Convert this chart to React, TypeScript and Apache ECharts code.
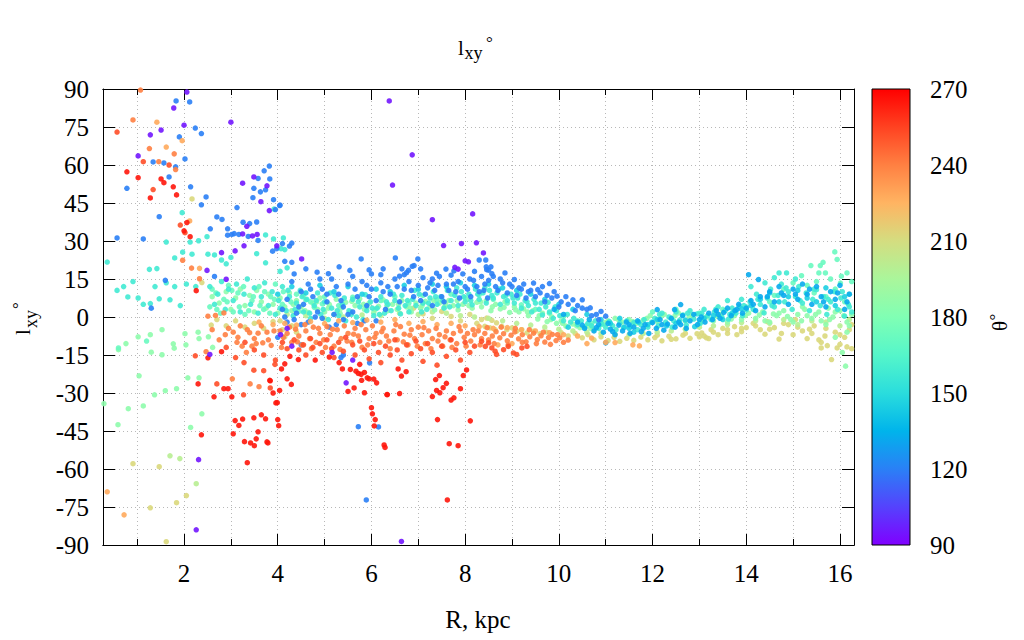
import { useEffect, useRef } from "react";
import * as echarts from "echarts";

// ---- axis ticks ----
const xMajorTicks = [2, 4, 6, 8, 10, 12, 14, 16];
const xMinorTicks = [1, 3, 5, 7, 9, 11, 13, 15];
const X_MIN = 0.27;
const X_MAX = 16.3;
const Y_MIN = -90;
const Y_MAX = 90;
const Y_STEP = 15;
const CB_MIN = 90;
const CB_MAX = 270;
const CB_STEP = 30;

// ---- points [R kpc, l_xy deg], grouped by theta (deg) ----
const theta212 = [
  [2.17, 46.6], [2.38, 13.6], [0.91, -57.9], [1.47, -59.1], [2.05, -70.5], [1.84, -73.3], [1.28, -75.3], [1.62, -88.7],
  [2.7, -1], [2.9, -3.5], [3.1, -1.5], [3.3, -4], [3.5, -2.5], [3.7, -4.5], [3.9, -1.8], [2.58, -3.2],
  [4.05, -1.5], [4.1, -5], [4.15, -7.8], [4.3, -3.5], [4.4, -6],
  [6.9, 3.5], [7.1, 1.2], [7.3, -0.5], [7.5, 2.2], [7.7, 0.2], [7.9, -1.5], [8.1, 1], [8.25, -2.5],
  [8.35, -1.0], [8.46, -0.4], [8.57, -1.3], [8.67, -2.3], [8.42, -3.7], [8.53, -4.3], [8.64, -5], [8.78, -3.7],
  [8.89, -5], [9.0, -4.3], [9.1, -5.6], [9.21, -5], [9.32, -6.3], [9.46, -5.6], [9.6, -6.6], [9.74, -6],
  [10.05, -6.2], [10.2, -7.5], [10.35, -6.5], [10.5, -8.2], [10.62, -7], [10.75, -9], [10.9, -7.8], [11.05, -9.3],
  [11.18, -8], [11.3, -9.6], [11.45, -8.4], [11.6, -9.2], [11.75, -7.9], [11.9, -9], [12.05, -8.1], [12.2, -9.4],
  [12.35, -7.6], [12.5, -8.6], [12.65, -7.2], [12.8, -8.4], [12.95, -6.6], [13.1, -7.5],
  [13.05, -6.3], [13.15, -8.2], [13.25, -5], [13.4, -7], [13.5, -4.5], [13.6, -6.5], [13.75, -3.8], [13.9, -5.8], [14.0, -4.2],
  [14.15, -2.5], [14.3, -5], [14.45, -1.8], [14.6, -4.2], [14.75, -6.5], [14.9, -3], [15.05, -1], [15.2, -5.5],
  [15.3, -8.5], [15.45, -3.5], [15.55, -9], [15.68, -7.5], [15.6, -12.2], [15.73, -11.3], [15.82, -16.8], [15.9, -6],
  [15.94, -12.2], [16.0, -10.8], [16.1, -8], [16.15, -11.8], [16.2, -5], [16.25, -12.5], [15.35, -4.8], [14.7, -8.7],
  [12.1, -7.2], [12.4, -8.8], [12.7, -6.5], [13.0, -7.8], [13.3, -6], [13.6, -5], [13.9, -4.5], [14.2, -3.5],
  [14.5, -4.8], [14.8, -2.5], [15.1, -4], [15.4, -6.5], [15.7, -4.5], [16.0, -7], [16.25, -3], [13.2, -8.5],
  [13.8, -7], [14.4, -6.8], [15.0, -7], [15.6, -10],
];

const theta200 = [
  [1.7, -54.8], [1.91, -55.9], [2.26, -65.8],
  [4.2, 1], [4.6, 0.5], [5.0, -0.5], [5.4, 0], [5.8, 0.8], [6.2, 0.5], [6.6, 1.5], [7.0, 1], [7.3, 2], [7.6, 1.5],
  [7.9, 0.5], [8.2, 0], [8.5, -0.5], [8.8, -1.5], [9.1, -2.5], [9.4, -3.2], [9.7, -4], [10.0, -4.8], [10.3, -5.5],
  [10.6, -6], [10.9, -6.5], [11.2, -6.8], [11.5, -7], [11.8, -6.5], [12.1, -6], [12.4, -5.5], [12.7, -4.8], [13.0, -4],
  [13.3, -3.5], [13.6, -3], [13.9, -2.2], [14.2, -1.5], [14.5, -2.5], [14.8, -1], [15.1, -3], [15.4, -1.5], [15.7, -2],
  [16.0, -3.5], [16.2, -1],
];

const theta185 = [
  [0.6, -12.9], [0.76, -10.5], [1.02, -7.8], [1.28, -7], [1.3, -13.9], [1.53, -5], [1.53, -14.9], [1.77, -10.6],
  [1.79, -12.3], [2.02, -6.6], [2.04, -11], [2.3, -6], [2.32, -8.5], [2.52, -7.8], [2.61, -12], [1.04, -23.2],
  [2.08, -24], [2.32, -24], [1.84, -28.3], [1.6, -29.1], [1.37, -30.7], [1.13, -35.1], [0.81, -36.2], [0.29, -34.2],
  [0.59, -42.5], [2.38, -38.2], [2.14, -43.6],
  [2.6, 8], [2.75, 5.5], [2.9, 10], [3.0, 3], [3.1, 7.5], [3.2, 11], [3.3, 4.5], [3.4, 8.5], [3.5, 2], [3.55, 10.5],
  [3.65, 6], [3.75, 3.5], [3.8, 9], [3.9, 5], [4.0, 1.5], [4.05, 7.5], [4.15, 4], [4.25, 9.5], [4.3, 2.5], [4.4, 6.5],
  [4.5, 4], [4.55, 8.5], [4.65, 1.8], [4.75, 5.5], [4.85, 3], [4.9, 7.5], [5.0, 2], [5.1, 5], [5.2, 1], [5.25, 7],
  [5.35, 3.5], [5.45, 5.8], [5.55, 2.2], [5.65, 4.5], [5.75, 7.2], [5.85, 3], [5.95, 5.5], [6.05, 1.8], [6.15, 4.2],
  [6.25, 6.8], [6.35, 2.5], [6.45, 5], [6.55, 3], [6.65, 6.5], [6.75, 4], [6.85, 2], [6.95, 5.5], [7.05, 3.5],
  [7.15, 6.2], [7.25, 4], [7.35, 2.8], [7.45, 5.5], [7.55, 3.8], [7.65, 6.5], [7.75, 4.5], [7.85, 2.8], [7.95, 5],
  [8.05, 7], [8.15, 3.5], [8.25, 5.8], [8.35, 4], [8.45, 6.5], [8.55, 2.5], [8.65, 5], [8.75, 3.2], [8.85, 6],
  [8.95, 1.8], [9.05, 4], [9.15, 2], [9.25, 3.2], [9.35, 0.5], [9.45, 2.5], [9.55, -0.8], [9.65, 1.5], [9.75, -1.8],
  [9.85, 0], [9.95, -2.5], [10.05, -1.5], [10.15, -3.6], [10.3, -2.8], [10.45, -4.2], [10.6, -3.5], [10.75, -5],
  [10.9, -3], [11.05, -1.5], [11.2, -0.5], [11.35, -2], [11.5, -1], [11.65, -2.5], [11.8, -1.2], [11.95, 0.5],
  [12.1, -1.8], [12.25, 1], [12.4, -0.5], [12.55, 1.6], [12.7, -1.5], [12.85, 0.8], [13.0, -2.3], [13.15, 0],
  [13.3, -1.5], [13.45, 1], [13.6, -2], [13.75, 0.5], [13.9, -1], [14.05, 1.5], [14.2, -0.5], [14.35, 2], [14.5, -2],
  [14.65, 0.5], [14.8, 2.5], [14.95, -1], [15.1, 1], [15.25, 3], [15.4, -0.5], [15.55, 2], [15.7, -3], [15.85, 0],
  [16.0, 2.5], [16.15, -2], [16.25, 1], [16.12, -19.4], [15.9, -8], [16.05, -14],
  [4.08, 3], [4.33, 5], [4.58, 2.5], [4.83, 6], [5.08, 3.5], [5.33, 1.5], [5.58, 6.2], [5.83, 5], [6.08, 3],
  [6.33, 4.5], [6.58, 5], [6.83, 3.5], [7.08, 4.5], [7.33, 6.5], [7.58, 5], [7.83, 6.5], [8.08, 4.5], [8.33, 6],
  [8.58, 4], [8.83, 3.8], [9.08, 2.8], [9.33, 2], [9.58, 0.5], [9.83, -1], [10.08, -2.5], [10.38, -3.5], [10.68, -4.5],
  [10.98, -2.2], [11.28, -1.2], [11.58, -1.8], [11.88, -0.5], [12.18, 0.2], [12.48, 0.5], [12.78, 0], [13.08, -1],
  [13.38, 0.2], [13.68, -0.8], [13.98, 0.5], [14.28, 0.8], [14.58, 1.2], [14.88, 0.2], [15.18, -1.5], [15.48, 1],
  [15.78, -1], [16.08, 0.5],
  [14.4, -1.5], [14.7, 1.5], [15.0, -2], [15.3, 0.5], [15.6, -1.5], [15.9, 2], [16.2, -3.5], [15.2, 4], [15.75, 3.5],
  [16.15, -6],
];

const theta172 = [
  [15.89, 25.7], [15.94, 22.7], [15.64, 21.6], [15.58, 20.3], [15.38, 20.3], [15.18, 16.3], [15.55, 17.4], [15.69, 17.4],
  [16.15, 17.4], [16.03, 16.1], [16.01, 13.4], [15.8, 15], [15.5, 14], [15.3, 12.5], [15.9, 11], [16.2, 9], [15.0, 13.5],
  [14.8, 11], [15.7, 8], [16.1, 6], [15.45, 9.5], [14.6, 8.5], [16.25, 14],
  [4.1, 5], [4.4, 9], [4.7, 6], [5.0, 8], [5.3, 4.5], [5.6, 7.8], [5.9, 3.8], [6.2, 6.5], [6.5, 8], [6.8, 5.5],
  [7.1, 8.5], [7.4, 6.8], [7.7, 9], [8.0, 7.5], [8.3, 8.8], [8.6, 7], [8.9, 5.5], [9.2, 4.8], [9.5, 3], [9.8, 1.5],
  [10.1, 0.2], [10.4, -1.5], [10.7, -2.5], [12.0, 2], [12.5, 3], [13.0, 1.5], [13.5, 3], [14.0, 4], [14.5, 6],
  [2.6, 11], [2.7, 3], [2.85, 7], [2.95, 12.5], [3.05, 2], [3.15, 9.5], [3.3, 1], [3.45, 6.5], [3.6, 12], [3.7, 3],
  [3.85, 8], [3.95, 13], [0.6, -12.2], [1.2, -9.5],
  [2.55, 4], [2.68, 9.5], [2.78, 1.5], [2.92, 6], [3.02, 10.5], [3.18, 4], [3.27, 12], [3.38, 2.5], [3.48, 8],
  [3.62, 4.5], [3.72, 10], [3.83, 1.5], [3.93, 7], [4.12, 10], [4.28, 6], [4.45, 2.2], [4.6, 6.8], [4.78, 3.8],
  [4.95, 5.2],
];

const theta158 = [
  [0.36, 21.7], [1.8, 23.3], [1.97, 25.6], [2.17, 24.8], [2.51, 24.8], [2.65, 24.5], [2.8, 22.5], [2.9, 21], [3.0, 23.5],
  [3.55, 25], [3.74, 21.4], [4.05, 18], [1.26, 18.8], [1.42, 19.1], [0.91, 14], [0.71, 12], [0.57, 10.5], [1.62, 13.5],
  [1.38, 12], [1.8, 12], [2.05, 13], [2.25, 12], [0.8, 7.9], [1.02, 7.5], [1.47, 7.2], [1.7, 6.8], [1.92, 4.5],
  [1.13, 5], [1.28, 5.3], [2.13, 29.6], [2.31, 30.1], [2.49, 31.7], [1.62, 29.6], [3.74, 32.4], [3.91, 30.8],
  [4.12, 31.2], [1.96, 41.2], [3.92, 42.6], [4.07, 27], [4.15, 26.6], [4.2, 19.4],
  [2.55, 12], [2.65, 5], [2.72, 9], [2.8, 14], [2.88, 3], [2.95, 11], [3.05, 6.5], [3.12, 13], [3.2, 2], [3.28, 9],
  [3.35, 15], [3.42, 5], [3.5, 11.5], [3.58, 1.5], [3.65, 8], [3.72, 13.5], [3.8, 4.5], [3.88, 10], [3.95, 1],
  [4.02, 6.5], [4.1, 12], [4.18, 2.5], [4.25, 8], [4.33, 0.5], [4.4, 5.5], [4.48, 10.5], [4.55, 2], [4.62, 7],
  [4.7, -0.5], [4.78, 4.5], [4.85, 9.5], [4.92, 1], [5.0, 6], [5.08, -1], [5.15, 3.5], [5.22, 8.5], [5.3, 0.5],
  [5.38, 5], [5.45, -1.5], [5.52, 2.5], [5.6, 7], [5.68, 0], [5.75, 4], [5.82, -1], [5.9, 2.5], [5.98, 6], [6.05, 0.5],
  [6.12, 3.5], [6.2, 8], [6.28, 1.5], [6.35, 5], [6.42, 2.5], [6.5, 6.5], [6.58, 3.5], [6.65, 8.5], [6.72, 4.5],
  [6.8, 2], [6.88, 7], [6.95, 4.5], [7.02, 9], [7.1, 5.5], [7.18, 3], [7.25, 7.5], [7.32, 10], [7.4, 5], [7.48, 8],
  [7.55, 3.5], [7.62, 10.5], [7.7, 6.5], [7.78, 8.5], [7.85, 4.5], [7.92, 10], [8.0, 6], [8.08, 9], [8.15, 4.8],
  [8.22, 11], [8.3, 7], [8.38, 9.5], [8.45, 5.5], [8.52, 10.5], [8.6, 7.5], [8.68, 9.5], [8.75, 5], [8.82, 8],
  [8.9, 6.5], [8.98, 9], [9.05, 5.5], [9.12, 7.5], [9.2, 3.5], [9.28, 6.5], [9.35, 4.5], [9.42, 2], [9.5, 5.5],
  [9.58, 3], [9.65, 0.8], [9.72, 4], [9.8, 2], [9.88, -0.5], [9.95, 2.5], [10.02, 0.5], [10.1, -1.5], [10.18, 1],
  [10.25, -2], [10.32, -0.5], [10.4, -3], [10.48, -1.5], [10.55, -4], [10.62, -2.5], [10.7, -3.5], [10.78, -1.5],
  [10.85, -4.5], [10.92, -2.8], [11.0, -4], [11.08, -1.8], [11.15, -3.5], [11.22, -5], [11.3, -2.5], [11.38, -4.2],
  [11.45, -1.5], [11.52, -3.8], [11.6, -2.2], [11.68, -5], [11.75, -3], [11.82, -1], [11.9, -4], [11.98, -2],
  [12.05, -0.5], [12.12, -3.5], [12.2, 1.5], [12.28, -2], [12.35, 0], [12.42, -4], [12.5, 2], [12.58, -1.2],
  [12.65, 0.8], [12.72, -3.2], [12.8, 2.5], [12.88, -0.8], [12.95, 1.2], [13.02, -2.5], [13.1, 3], [13.18, 0.5],
  [13.25, -1], [13.32, 2], [13.4, 4], [13.48, 0], [13.55, 2.5], [13.62, -0.8], [13.7, 3.5], [13.78, 1.5], [13.85, 4.2],
  [13.92, 0.5], [14.0, 2.8], [14.08, 6], [14.15, 3], [14.22, 9], [14.3, 5], [14.38, 1.6], [14.45, 7.5], [14.52, 11],
  [14.6, 4], [14.68, 8.5], [14.75, 13], [14.82, 6], [14.9, 10], [14.98, 3], [15.05, 8], [15.12, 12], [15.2, 5.5],
  [15.28, 9.5], [15.35, 2.5], [15.42, 7], [15.5, 10.8], [15.58, 4.5], [15.65, 8], [15.72, 1], [15.8, 6], [15.88, 10],
  [15.95, 3], [16.02, 7.5], [16.1, 0.3], [16.18, 5], [16.25, 2], [14.7, 17.4], [14.86, 17.4], [14.1, 12], [14.4, 13.5],
  [14.6, 15.5], [15.05, 15], [13.9, 7], [13.6, 6.5],
  [4.05, 3.5], [4.22, 10.5], [4.37, 3], [4.52, 8], [4.68, 1.5], [4.82, 6.5], [4.97, 3], [5.12, 9.5], [5.27, 2.5],
  [5.42, 7.5], [5.57, 1], [5.72, 6], [5.87, 8.8], [6.02, 3.5], [6.17, 1], [6.32, 6], [6.47, 9], [6.62, 1.2],
  [6.77, 6.5], [6.92, 10.5], [7.07, 2], [7.22, 5.5], [7.37, 8], [7.52, 6.5], [7.67, 4], [7.82, 11.5], [7.97, 8],
  [8.12, 6.5], [8.27, 9], [8.42, 11.5], [8.57, 8.5], [8.72, 11], [8.87, 8.5], [9.02, 7.5], [9.17, 9], [9.32, 6],
  [9.47, 7], [9.62, 5.5], [9.77, 5.8], [9.92, 4],
  [12.15, 1], [12.45, -1.5], [12.75, 1.5], [13.05, 1.5], [13.35, 3], [13.65, 1], [13.95, 4.5], [14.25, 7],
  [14.55, 4.5], [14.85, 11.5], [15.15, 6.5], [15.45, 11], [15.75, 7], [16.05, 10], [16.2, 4],
];

const theta145 = [
  [4.0, 9], [4.3, 12], [4.6, 9.5], [4.9, 12.5], [5.2, 10], [5.5, 12], [5.8, 9], [6.1, 11], [6.4, 10], [6.7, 12.5],
  [7.0, 11], [7.3, 13], [7.6, 12], [7.9, 13.5], [8.2, 12.5], [8.5, 13], [8.8, 11.5], [9.1, 10.5], [9.4, 9], [9.7, 7],
  [10.0, 5], [10.3, 3], [10.6, 1], [10.9, -1], [11.1, -2.5], [11.3, -0.5], [11.5, -4.5], [11.7, -2], [11.9, -3],
  [12.1, -1], [12.3, -3.5], [12.5, -2.5], [12.7, -1.2], [12.9, -3.8], [13.1, -0.5], [13.3, 0.5], [13.5, -1], [13.7, 1.5],
  [13.9, 3.2], [14.1, 4.5], [14.3, 7], [14.5, 9.5], [14.7, 6], [14.9, 8], [15.1, 10.5], [15.3, 7.5], [15.5, 6],
  [15.7, 11.5], [15.9, 4.5], [16.1, 8], [11.4, -4], [11.6, -6], [10.2, -4],
];

const theta132 = [
  [10.4, -2], [10.55, -4.5], [10.65, -1], [10.75, -5.5], [10.85, -3], [10.95, -6], [11.05, -2.5], [11.1, -4.8],
  [11.2, -7], [11.28, -3.2], [11.36, -5.5], [11.44, -2], [11.52, -6.5], [11.6, -4], [11.68, -1.5], [11.76, -5.8],
  [11.84, -3], [11.92, -6.5], [12.0, -2.2], [12.08, -4.5], [12.16, -1], [12.24, -5.2], [12.32, -2.8], [12.4, -0.5],
  [12.48, -4], [12.56, -2], [12.64, 0.5], [12.72, -4.5], [12.8, -1.5], [12.88, 1], [12.96, -3], [13.04, 0],
  [13.12, -2], [13.2, 1.5], [13.28, -1], [13.36, 2.5], [13.44, -0.5], [13.52, 1.8], [13.6, 3.5], [13.68, 0.5],
  [13.76, 2.5], [13.84, 5], [13.92, 1.5], [14.0, 3.5], [14.1, 6.5], [14.2, 2.5], [14.3, 8], [14.4, 4], [14.5, 10],
  [14.6, 6], [14.7, 12], [14.8, 8.5], [14.9, 5], [15.0, 11], [15.1, 7], [15.2, 13], [15.3, 9], [15.4, 5], [15.5, 12],
  [15.6, 8], [15.7, 4], [15.8, 10], [15.9, 7], [16.0, 12.5], [16.1, 3], [16.2, 9], [11.0, -10.2], [12.1, 2.9],
  [12.47, 2.9], [12.6, 4.9], [14.05, 16.7], [14.26, 14.8], [10.1, 1], [9.9, 3],
  [10.5, -3.2], [10.8, -4.2], [11.15, -5.8], [11.5, -3], [11.8, -4.5], [12.2, -3], [12.6, -3], [13.0, -1],
  [13.4, 1], [13.8, 3], [14.15, 5], [14.45, 8], [14.75, 9.5], [15.05, 9], [15.35, 11], [15.65, 6], [15.95, 9.5],
  [16.15, 6],
];

const theta120 = [
  [1.83, 85.3], [2.12, 84.9], [2.24, 74.6], [2.37, 72.4], [1.9, 71.1], [2.02, 62.4], [1.34, 61.2], [1.57, 60.8],
  [1.82, 59.3], [1.68, 55.3], [0.78, 50.8], [2.14, 51.4], [2.47, 47.4], [2.37, 44.3], [3.58, 54.7], [3.71, 57.7],
  [3.82, 59.6], [3.83, 54.5], [3.49, 50.8], [3.63, 49.4], [3.74, 50.2], [3.47, 47.1], [3.91, 46.3], [4.04, 44],
  [3.95, 42.4], [3.13, 43.2], [1.47, 39.6], [2.7, 39.5], [2.81, 38.5], [2.56, 34.8], [2.93, 34.8], [3.26, 37.4],
  [3.4, 36.9], [3.55, 37.5], [3.07, 32.9], [2.93, 32.3], [3.02, 32.6], [3.17, 32.6], [3.37, 31.8], [3.58, 30.2],
  [0.57, 31.2], [1.13, 30.8], [3.89, 26], [3.98, 27], [1.3, 3.5], [2.65, 16], [1.6, 14.5], [4.1, 29], [4.25, 28],
  [4.3, 29.2], [4.15, 22], [4.3, 21.6], [4.05, 44.2],
  [4.84, 17.7], [5.08, 17.1], [5.31, 19.8], [5.54, 18.4], [5.78, 22.9], [5.95, 18.6], [6.0, 17], [6.2, 16.7],
  [6.25, 19], [6.51, 23.3], [6.6, 16.1], [6.7, 16.7], [6.75, 17.5], [6.79, 18.4], [6.87, 20], [6.91, 20.3],
  [6.99, 22.9], [7.39, 17.3], [7.59, 18.9], [7.76, 18.2], [8.46, 18.7], [8.57, 17.1],
  [4.1, 3], [4.2, 7], [4.3, 14], [4.4, 1.5], [4.5, 10], [4.55, 5], [4.65, 13], [4.75, 8], [4.85, 2], [4.95, 11],
  [5.05, 6], [5.15, 15], [5.2, 1], [5.3, 9], [5.4, 4], [5.5, 13], [5.6, 2], [5.7, 8], [5.8, 14], [5.9, 4.5], [6.0, 11],
  [6.1, 6.5], [6.2, 13.5], [6.3, 3], [6.4, 9], [6.5, 15], [6.6, 6], [6.7, 11], [6.8, 14], [6.9, 8], [7.0, 12.5],
  [7.1, 15.5], [7.15, 9], [7.25, 13.5], [7.35, 10.5], [7.45, 16], [7.5, 8], [7.6, 13], [7.7, 16.5], [7.8, 10],
  [7.85, 14], [7.95, 17], [8.05, 11], [8.1, 15], [8.2, 18], [8.25, 12], [8.35, 16], [8.4, 10.5], [8.5, 14.5],
  [8.55, 19.8], [8.65, 12], [8.75, 15], [8.85, 17.4], [8.95, 13], [9.05, 14.8], [9.15, 11.5], [9.25, 13], [9.35, 10],
  [9.46, 13.4], [9.55, 10.8], [9.65, 12], [9.75, 8.5], [9.8, 13.2], [9.9, 10], [9.96, 8.2], [10.05, 6], [10.15, 8],
  [10.3, 6.8], [10.4, 4.5], [10.5, 6.8], [10.6, 3], [10.67, 3.6], [10.8, 1], [10.9, 2.2], [11.0, 0.3], [8.3, 22.5],
  [8.44, 22.5], [8.45, 19.8], [8.5, 18.5],
  [7.05, 6.5], [7.2, 11.5], [7.3, 4.5], [7.42, 12.5], [7.55, 6], [7.65, 10.5], [7.75, 13], [7.88, 7.5], [8.0, 12],
  [8.12, 8], [8.18, 14.5], [8.3, 10], [8.42, 13], [8.48, 7.5], [8.6, 16], [8.7, 10.5], [8.8, 13.5], [8.9, 9.5],
  [9.0, 12], [9.1, 8.5], [9.2, 11], [9.3, 7.5], [9.4, 10.5], [9.5, 8], [9.6, 9.5], [9.7, 6], [9.85, 7.5], [10.0, 4],
  [10.2, 5], [10.35, 2.5], [10.5, 3.5], [10.7, 0.5], [10.85, -1],
  [4.2, -2], [4.5, -3], [4.8, 0], [5.1, -4], [5.4, -1], [5.7, -2.5], [6.1, -1.5], [5.35, -16], [5.4, -15],
  [5.72, -43.3], [6.15, -43.4], [5.89, -72.2], [5.96, -18.1], [4.0, -8], [4.5, -11],
  [4.35, 17], [4.6, 19], [4.9, 15], [5.25, 12], [5.6, 16], [5.9, 12.5], [6.35, 12], [6.65, 19], [7.05, 19], [7.3, 15],
  [4.15, 0], [4.35, -1], [4.65, -2], [4.95, -0.5], [5.25, -3], [5.5, 1], [5.85, -1.5], [4.45, 4], [4.7, 11],
  [5.05, 9], [5.35, 6.5], [5.65, 11], [5.95, 8], [6.25, 10], [6.55, 12], [6.85, 10.5],
];

const theta95 = [
  [2.06, 88.8], [1.78, 82.5], [3.0, 76.9], [2.0, 75.7], [1.51, 73.8], [1.28, 71.9], [1.02, 63.6], [3.25, 52.8],
  [3.49, 55.3], [3.77, 51.8], [3.64, 45.5], [3.82, 42.0], [3.34, 35.8], [3.25, 32.8], [3.46, 32.0], [3.56, 32.6],
  [3.28, 28.1], [3.09, 26.1], [3.98, 28.1], [2.8, 25.4], [2.9, 14.9], [2.49, 18.4], [2.55, -14.8], [2.31, -56.3],
  [2.26, -84.0], [6.64, -88.6], [4.51, 22.9], [6.38, 85.3], [6.87, 64.0], [6.45, 52.1], [7.3, 38.4], [8.16, 40.7],
  [7.54, 28.2], [7.92, 29.0], [8.24, 29.3], [8.0, 22.2], [8.07, 21.8], [8.39, 25.3], [7.78, 19.6], [7.85, 18.9],
  [5.16, -14.0], [5.6, -17.0], [4.06, -7.0], [4.3, -11.5], [4.2, -4.5], [5.46, -26.0],
];

const theta228 = [
  [1.42, 76.9], [1.62, 67.1], [1.96, 69.6], [2.12, 37.9], [2.33, 19.2], [0.36, -69], [0.72, -78.1],
  [3.6, -2], [3.9, -3], [4.15, -2.5], [4.4, -3.2], [4.7, -1.8], [5.0, -2.6], [5.3, -1.5], [5.6, -2.2], [5.9, -1.2],
  [6.2, -2], [6.5, -1], [6.8, -2.5], [7.1, -1.8], [7.4, -3], [7.7, -2.5], [8.0, -3.5], [8.3, -3.8], [8.6, -4.5],
  [8.9, -4.2], [9.2, -5], [9.5, -5.5], [9.8, -6.2], [10.1, -7], [10.4, -7.5], [10.7, -8.3], [11.0, -10],
  [11.2, -10.1], [11.58, -11], [11.72, -11.4], [10.6, -10.5], [9.0, -10.5], [8.7, -11],
];

const theta240 = [
  [0.91, 77.8], [1.26, 66.5], [1.79, 64.4], [1.46, 61.3], [1.82, 58.2], [1.07, 89.6], [1.97, 22.4], [2.16, 19.3],
  [2.33, 15.1], [2.47, -13.7], [3.03, -24.4], [3.41, -26.4], [3.6, -27.5],
  [2.51, 0.3], [2.67, 0.6], [2.85, 1.6], [3.05, -6], [3.24, -11.5], [3.4, -6.2], [3.58, -6.4], [3.77, -6],
  [3.13, -10], [3.33, -14], [3.54, -10.5], [3.68, -10.2], [3.86, -11.2],
  [4.05, -5.5], [4.12, -8], [4.2, -6.5], [4.3, -10], [4.38, -4.8], [4.45, -7.5], [4.52, -11], [4.6, -5.5],
  [4.68, -8.5], [4.76, -4], [4.82, -10], [4.9, -6.5], [4.98, -9], [5.05, -3.8], [5.12, -7], [5.2, -11.5],
  [5.27, -5], [5.35, -8.5], [5.42, -3.5], [5.5, -6.5], [5.58, -10], [5.65, -4.5], [5.72, -7.5], [5.8, -12],
  [5.88, -5], [5.95, -8.5], [6.02, -3.5], [6.1, -6.5], [6.18, -10], [6.25, -4.5], [6.32, -7.5], [6.4, -12.5],
  [6.48, -5.5], [6.55, -9], [6.62, -3.8], [6.7, -6.8], [6.78, -11], [6.85, -5], [6.92, -8.5], [7.0, -4],
  [7.08, -7], [7.15, -10.5], [7.22, -5.5], [7.3, -8.5], [7.38, -4.5], [7.45, -7], [7.52, -11.5], [7.6, -5.5],
  [7.68, -9], [7.75, -6.5], [7.82, -10.5], [7.9, -5.5], [7.98, -8], [8.05, -6.5], [8.12, -9.5], [8.2, -7],
  [8.28, -5.5], [8.35, -8.5], [8.42, -6.5], [8.5, -9], [8.58, -7.5], [8.66, -5.8], [8.74, -8.2], [8.82, -6.6],
  [8.9, -9.4], [8.98, -7.2], [9.06, -5.9], [9.14, -8.6], [9.22, -7], [9.3, -9.8], [9.38, -7.8], [9.46, -6.4],
  [9.54, -8.9], [9.62, -7.4], [9.7, -9.9], [9.78, -8.1], [9.86, -6.9], [9.94, -9.3], [10.02, -8.2], [10.1, -10],
  [10.2, -9.1],
  [4.08, -12], [4.25, -4], [4.42, -9.8], [4.58, -3], [4.72, -12.5], [4.87, -4.5], [5.02, -12], [5.17, -4.8],
  [5.33, -12.8], [5.48, -9.5], [5.62, -6.8], [5.78, -3], [5.92, -11], [6.07, -8], [6.22, -5.8], [6.37, -9.5],
  [6.52, -3], [6.68, -9.8], [6.82, -7.2], [6.98, -11.5], [7.12, -4.2], [7.27, -12.5], [7.42, -9.5], [7.57, -7.8],
  [7.72, -12], [7.87, -3.8], [8.02, -11.5], [8.17, -5], [8.32, -11], [8.47, -4.2], [8.62, -10.5], [8.77, -4],
  [8.92, -11], [9.07, -4.5], [9.22, -10], [9.37, -5], [9.52, -10.5], [9.67, -6], [9.82, -10.8], [9.97, -7],
  [2.6, -5], [2.75, -9], [2.95, -4.5], [3.15, -8], [3.35, -5], [3.5, -8.5], [3.65, -3.5], [3.8, -9], [3.92, -5.5],
  [2.88, -7], [3.2, -3.5], [3.45, -11.5],
];

const theta252 = [
  [0.57, 73], [1.13, 61.3], [1.68, 60], [1.34, 50.3], [1.92, 36.3], [2.02, 33.3], [2.24, -15.3], [2.7, -26.4],
  [3.27, -30.7], [3.84, -28], [3.28, -18], [3.49, -21], [3.7, -21.2], [3.94, -18.7],
  [4.1, -10], [4.2, -12.5], [4.35, -9], [4.45, -13], [4.55, -11], [4.6, -15], [4.7, -8.5], [4.75, -12],
  [4.9, -10.5], [4.95, -14], [5.05, -9], [5.15, -12.5], [5.2, -16], [5.3, -10], [5.4, -13.5], [5.45, -8],
  [5.6, -11], [5.65, -15], [5.75, -9.5], [5.85, -13], [5.95, -16.5], [6.05, -10.5], [6.15, -14], [6.2, -18],
  [6.3, -11.5], [6.4, -15], [6.5, -9], [6.55, -13], [6.65, -17], [6.75, -11], [6.85, -14.5], [6.95, -9.5],
  [7.05, -12.5], [7.1, -17.5], [7.2, -10.5], [7.3, -14], [7.4, -19], [7.5, -11.5], [7.6, -15.5], [7.7, -9],
  [7.8, -13], [7.9, -17], [8.0, -10], [8.1, -14], [8.2, -11.5], [8.35, -9.6], [8.43, -11.6], [8.5, -10.2],
  [8.57, -12.2], [8.64, -13.5], [8.67, -14.8], [8.82, -12.9], [8.92, -11.6], [9.03, -14.2], [9.1, -14.8],
  [9.21, -12.2], [9.32, -11.6], [3.5, -13], [3.7, -15], [3.3, -10], [2.9, -12], [3.1, -16], [3.95, -17],
];

const theta265 = [
  [0.78, 57.3], [1.02, 55], [1.51, 54.5], [1.57, 53], [1.77, 51.4], [1.84, 48.2], [1.28, 47], [2.0, 34],
  [2.06, 37.3], [2.13, 31.7], [2.26, 10.4], [2.51, -16.1], [2.8, -13.7], [2.3, -26.4], [2.85, -28.3],
  [2.94, -28.3], [3.84, -25.2], [3.9, -30], [3.99, -33.8], [3.02, -31.5], [2.64, -31.5], [2.37, -46.5],
  [3.09, -40.9], [3.17, -42.8], [3.25, -40.3], [3.05, -46.1], [3.49, -39.8], [3.65, -38.6], [3.74, -40.2],
  [3.58, -45.3], [3.54, -48.1], [3.29, -49.2], [3.42, -49.7], [3.5, -50.8], [3.77, -49.3], [3.79, -49.7],
  [4.0, -40.5], [4.02, -42.9], [3.35, -57.5],
  [3.96, -33.9], [4.2, -24.4], [4.29, -26.6], [3.83, -25], [4.04, -29], [4.15, -18.5], [4.08, -20.5],
  [4.26, -15.5], [4.44, -16.8], [5.5, -29.4], [5.85, -29.9], [6.0, -35.8], [6.02, -38.2], [6.08, -40.5],
  [6.06, -43], [6.27, -50.5], [6.29, -51.5], [6.34, -30.6], [6.6, -30.2], [6.57, -20.5], [6.64, -23.3],
  [6.74, -21.6], [7.3, -31.4], [7.39, -29], [7.46, -29.9], [7.53, -27.9], [7.6, -26.2], [7.7, -32.8],
  [7.76, -31.9], [7.9, -28.3], [7.96, -23.1], [8.03, -20.9], [7.41, -40.5], [8.11, -41], [7.66, -50],
  [7.85, -50.8], [7.62, -72.2], [7.37, -24.7], [7.45, -23.1], [5.75, -18.7], [5.78, -22.6], [5.85, -21.9],
  [5.91, -24], [5.95, -24.4], [5.79, -25], [5.72, -22.3], [5.67, -21.4], [5.55, -20.7], [5.38, -20.5],
  [5.31, -18], [5.63, -28], [6.11, -26], [6.05, -24.5], [4.8, -17], [5.1, -15.8], [6.33, -30.6],
];

const thetaGroups: [number, number[][]][] = [
  [212, theta212],
  [200, theta200],
  [185, theta185],
  [172, theta172],
  [158, theta158],
  [145, theta145],
  [132, theta132],
  [120, theta120],
  [228, theta228],
  [240, theta240],
  [252, theta252],
  [265, theta265],
  [95, theta95],
];

// rainbow palette, 90 -> 270 deg
const paletteStops = [
  "#8000ff", "#5542fd", "#2a80f6", "#00b4eb", "#2adddd", "#55f6ca", "#80ffb4",
  "#aaf69b", "#d4dd80", "#ffb462", "#ff8042", "#ff4221", "#ff0000",
];

const FONT = "Liberation Serif";

export default function App() {
  const ref = useRef<HTMLDivElement>(null);
  useEffect(() => {
    document.body.style.margin = "0";
    if (!ref.current) return;
    const chart = echarts.init(ref.current, undefined, { renderer: "svg" });

    const data: number[][] = [];
    thetaGroups.forEach(([th, pts]) => {
      pts.forEach((p) => data.push([p[0], p[1], th]));
    });

    const gradStops = paletteStops
      .map((c, i) => ({ offset: 1 - i / (paletteStops.length - 1), color: c }))
      .reverse();

    const gridLine = { show: true, lineStyle: { color: "#b8b8b8", width: 1, type: [1, 3] as any } };
    const axisLine = { show: true, onZero: false, lineStyle: { color: "#000", width: 1 } };

    const xBase = (pos: string, ticks: number[], len: number, labels: boolean, split: boolean) => ({
      type: "value",
      gridIndex: 0,
      position: pos,
      min: X_MIN,
      max: X_MAX,
      axisLine,
      axisTick: { show: true, inside: true, length: len, customValues: ticks, lineStyle: { color: "#000", width: 1 } },
      axisLabel: labels
        ? { show: true, customValues: xMajorTicks, margin: 16, fontFamily: FONT, fontSize: 25, color: "#000" }
        : { show: false },
      splitLine: split ? gridLine : { show: false },
    });

    const yBase = (pos: string, labels: boolean, split: boolean) => ({
      type: "value",
      gridIndex: 0,
      position: pos,
      min: Y_MIN,
      max: Y_MAX,
      interval: Y_STEP,
      axisLine,
      axisTick: { show: true, inside: true, length: 12, lineStyle: { color: "#000", width: 1 } },
      axisLabel: labels ? { show: true, margin: 14, fontFamily: FONT, fontSize: 25, color: "#000" } : { show: false },
      splitLine: split ? gridLine : { show: false },
    });

    const txt = (text: string, x: number, y: number, size: number, align = "left") => ({
      type: "text",
      x,
      y,
      style: { text, fontFamily: FONT, fontSize: size, fill: "#000", align, verticalAlign: "middle" },
    });

    const option: any = {
      animation: false,
      backgroundColor: "#fff",
      textStyle: { fontFamily: FONT },
      grid: [
        { left: 103, top: 89, width: 751, height: 456, containLabel: false },
        {
          left: 872, top: 89, width: 38, height: 456, show: true,
          backgroundColor: new echarts.graphic.LinearGradient(0, 0, 0, 1, gradStops),
          borderColor: "#000", borderWidth: 1,
        },
      ],
      xAxis: [
        xBase("bottom", xMajorTicks, 11, true, true),
        xBase("bottom", xMinorTicks, 6, false, true),
        xBase("top", xMajorTicks, 11, false, false),
        xBase("top", xMinorTicks, 6, false, false),
        { type: "value", gridIndex: 1, min: 0, max: 1, show: false },
      ],
      yAxis: [
        yBase("left", true, true),
        yBase("right", false, false),
        {
          type: "value", gridIndex: 1, position: "right", min: CB_MIN, max: CB_MAX, interval: CB_STEP,
          axisLine: { show: false }, axisTick: { show: false }, splitLine: { show: false },
          axisLabel: { show: true, margin: 20, fontFamily: FONT, fontSize: 25, color: "#000" },
        },
      ],
      visualMap: {
        type: "continuous",
        show: false,
        min: CB_MIN,
        max: CB_MAX,
        dimension: 2,
        seriesIndex: 0,
        inRange: { color: paletteStops },
      },
      series: [
        {
          type: "scatter",
          xAxisIndex: 0,
          yAxisIndex: 0,
          symbol: "circle",
          symbolSize: 5.5,
          itemStyle: { opacity: 0.9 },
          data,
          clip: true,
        },
      ],
      graphic: [
        // title  l_xy°
        txt("l", 458, 47.5, 21),
        txt("xy", 464.5, 52.5, 18),
        txt("°", 486, 42, 17),
        // y-axis name
        {
          type: "group", x: 29.5, y: 335, rotation: Math.PI / 2,
          children: [
            txt("l", 0, -7, 21),
            txt("xy", 7, 1.5, 18),
            txt("°", 26, -11, 17),
          ],
        },
        // x-axis name
        txt("R, kpc", 478, 619, 25, "center"),
        // colour-bar name
        {
          type: "group", x: 1007, y: 331, rotation: Math.PI / 2,
          children: [
            txt("θ", 0, -7, 21),
            txt("°", 10.5, -12, 17),
          ],
        },
      ],
    };

    chart.setOption(option);
    return () => chart.dispose();
  }, []);
  return <div ref={ref} style={{ position: "fixed", left: 0, top: 0, width: 1024, height: 640 }} />;
}
